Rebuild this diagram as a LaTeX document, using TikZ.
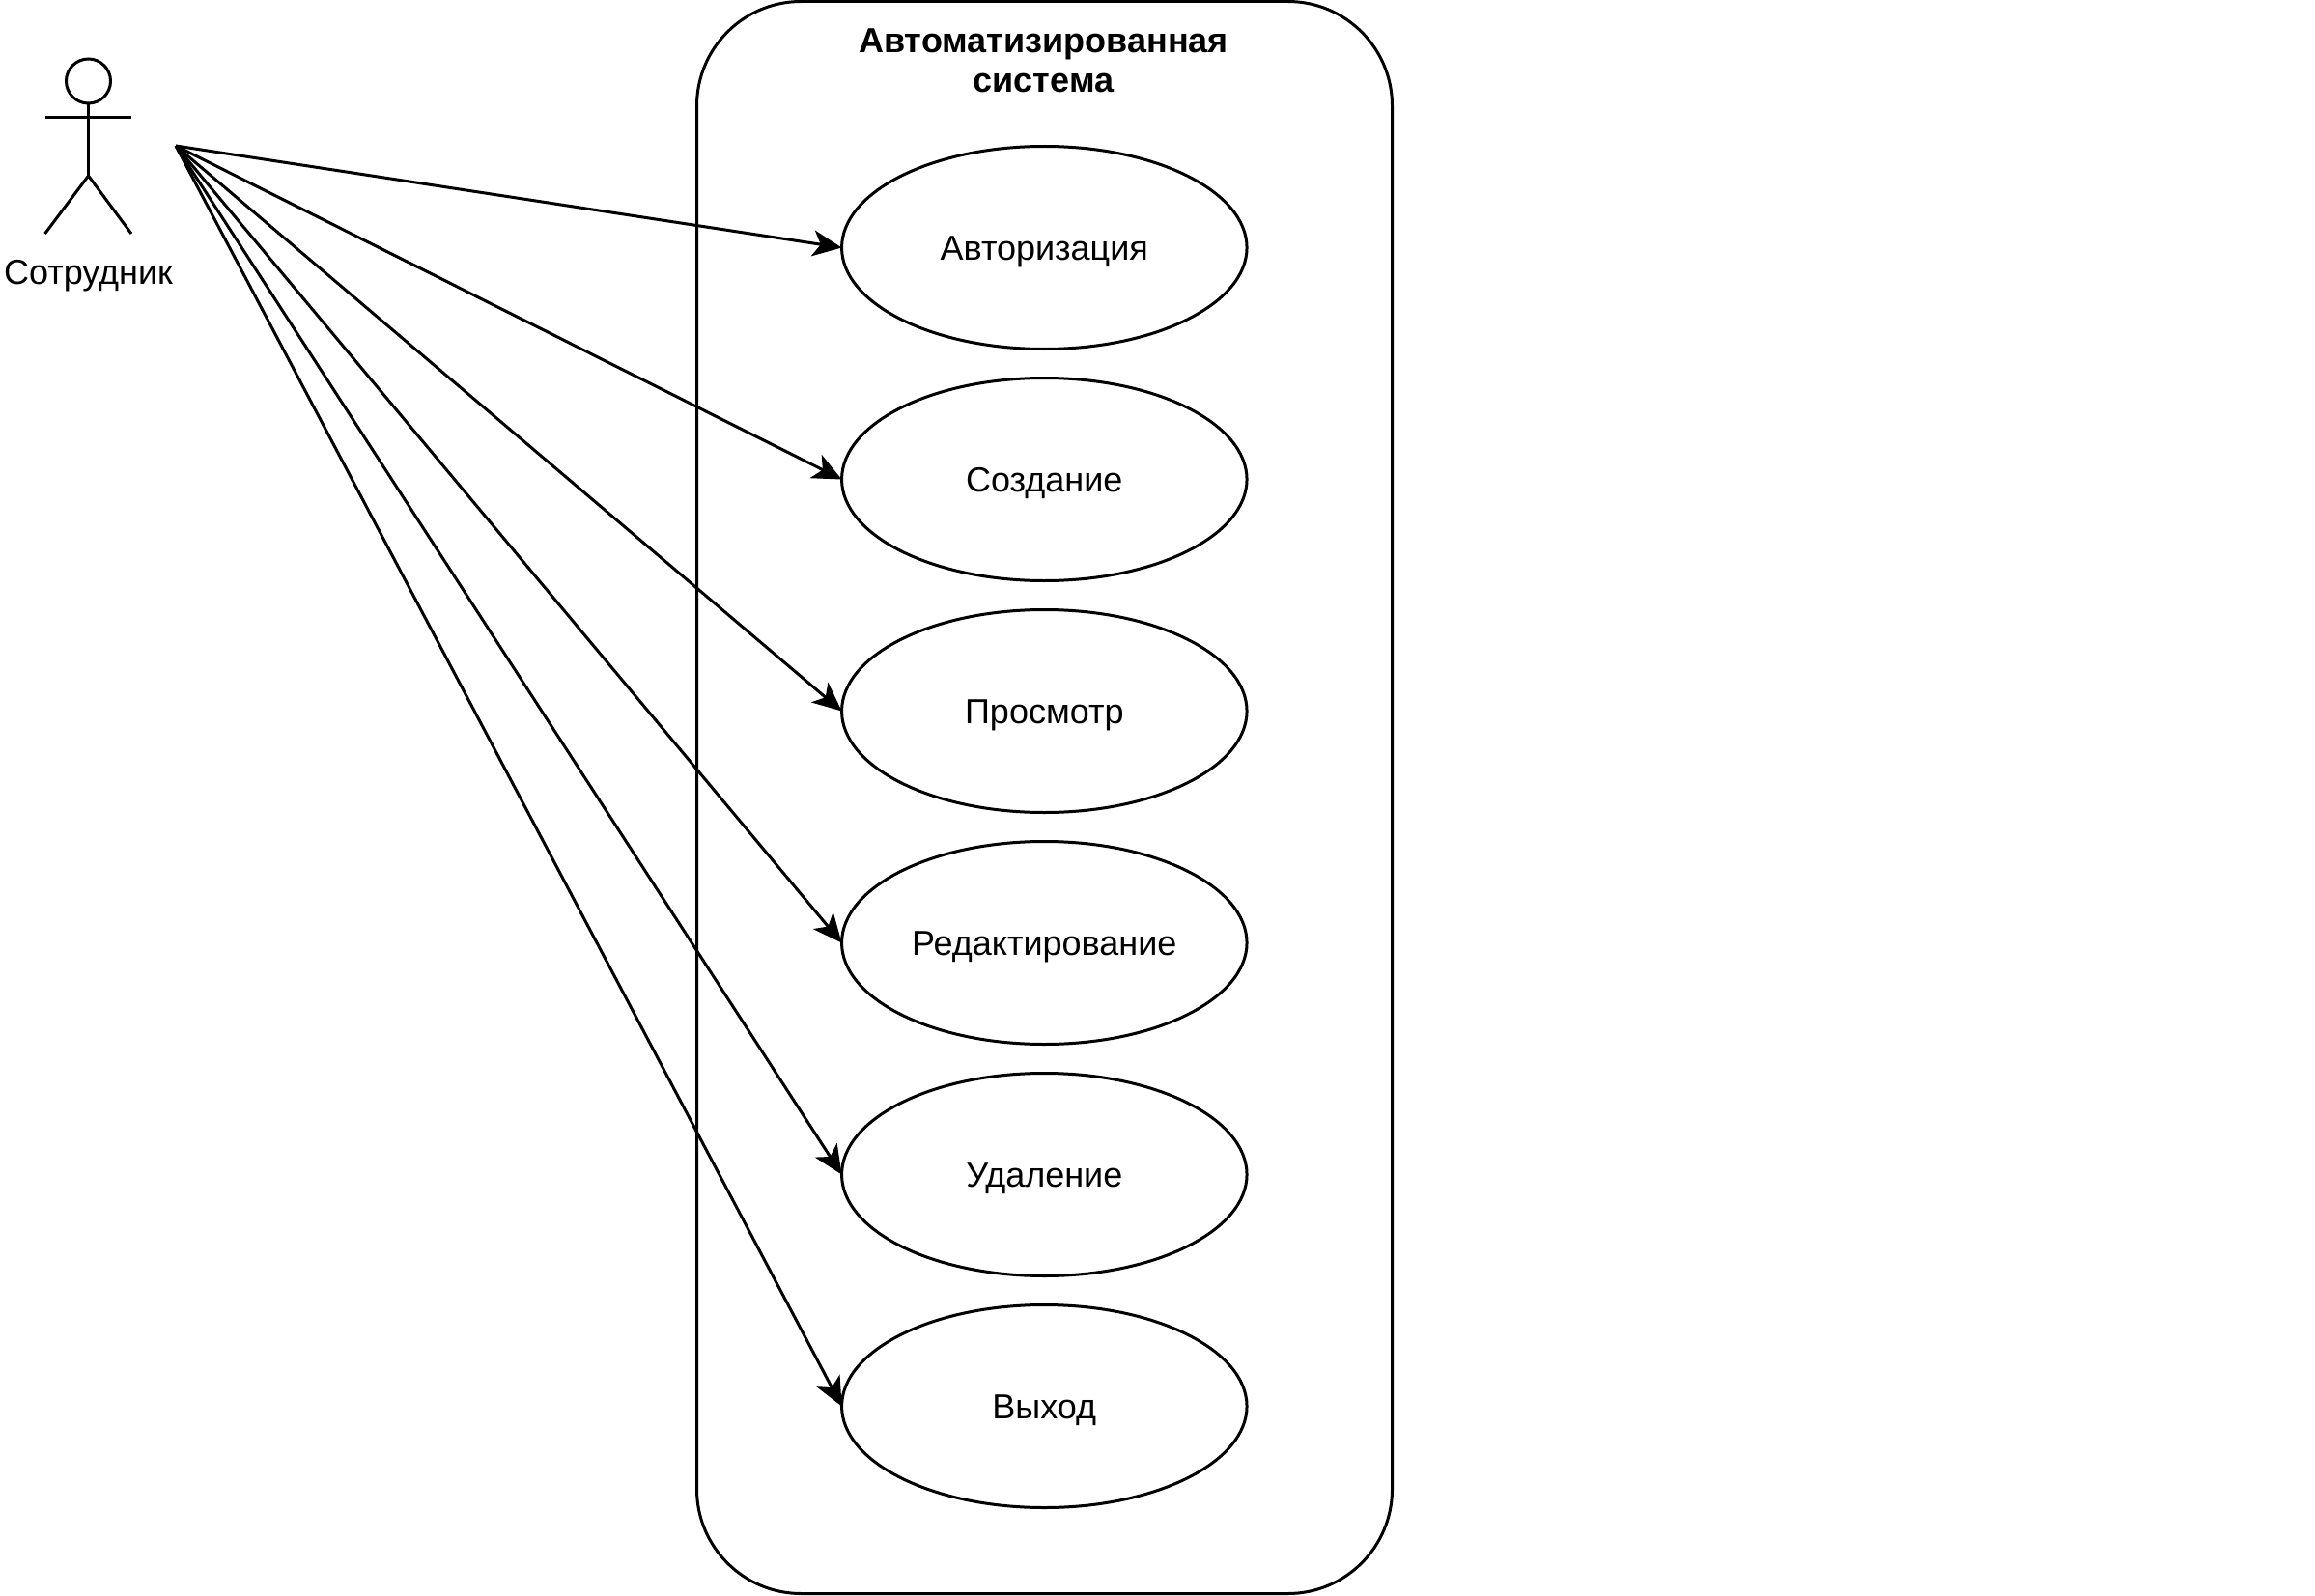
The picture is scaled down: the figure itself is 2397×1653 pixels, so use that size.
\documentclass[tikz,border=0pt]{standalone}
\usepackage{fontspec}
\setmainfont{Liberation Sans}
\usetikzlibrary{shapes.geometric, arrows.meta}
\definecolor{linecol}{RGB}{0, 0, 0}
\tikzset{
  usecase/.style={draw=linecol, line width=1.5pt, ellipse, minimum width=209.75pt, minimum height=105pt, inner sep=0pt, outer sep=0pt, text height=12.9pt, text depth=0pt, font=\fontsize{18pt}{20.7pt}\selectfont},
  sysbox/.style={draw=linecol, line width=1.5pt, rounded corners=54pt, minimum width=360pt, minimum height=824.5pt, inner sep=0pt},
  actorline/.style={draw=linecol, line width=1.5pt},
  usearrow/.style={draw=linecol, line width=1.5pt, -{Stealth[length=15pt, width=13.5pt, inset=4pt]}},
}

\begin{document}
\begin{tikzpicture}[x=0.5pt, y=-0.5pt]
  \useasboundingbox (0, 0) rectangle (2397, 1653);

  % System boundary
  \node[sysbox] (system) at (1081.5, 826) {};
  \node[font=\bfseries\fontsize{18pt}{20.7pt}\selectfont, align=center, inner sep=0pt] (systitle) at (1080.5, 62.5) {Автоматизированная\\система};

  % Use cases
  \node[usecase] (login) at (1081.3, 256.5) {Авторизация};
  \node[usecase] (create) at (1081.3, 496.5) {Создание};
  \node[usecase] (view) at (1081.3, 736.5) {Просмотр};
  \node[usecase] (edit) at (1081.3, 976.5) {Редактирование};
  \node[usecase] (remove) at (1081.3, 1216.5) {Удаление};
  \node[usecase] (quit) at (1081.3, 1456.5) {Выход};

  % Actor
  \node[actorline, circle, minimum size=23pt, inner sep=0pt, outer sep=0pt] (head) at (91.5, 84) {};
  \coordinate (armL) at (46.5, 121.5);
  \coordinate (armR) at (136, 121.5);
  \coordinate (hip) at (91.5, 182);
  \coordinate (footL) at (46.5, 242);
  \coordinate (footR) at (136, 242);
  \coordinate (port) at (182, 151);
  \draw[actorline] (head.south) -- (hip);
  \draw[actorline] (armL) -- (armR);
  \draw[actorline] (footL) -- (hip) -- (footR);
  \node[font=\fontsize{18pt}{20.7pt}\selectfont, inner sep=0pt] (actorname) at (91.5, 286) {Сотрудник};

  % Arrows
  \draw[usearrow] (port) -- (login.west);
  \draw[usearrow] (port) -- (create.west);
  \draw[usearrow] (port) -- (view.west);
  \draw[usearrow] (port) -- (edit.west);
  \draw[usearrow] (port) -- (remove.west);
  \draw[usearrow] (port) -- (quit.west);
\end{tikzpicture}
\end{document}
